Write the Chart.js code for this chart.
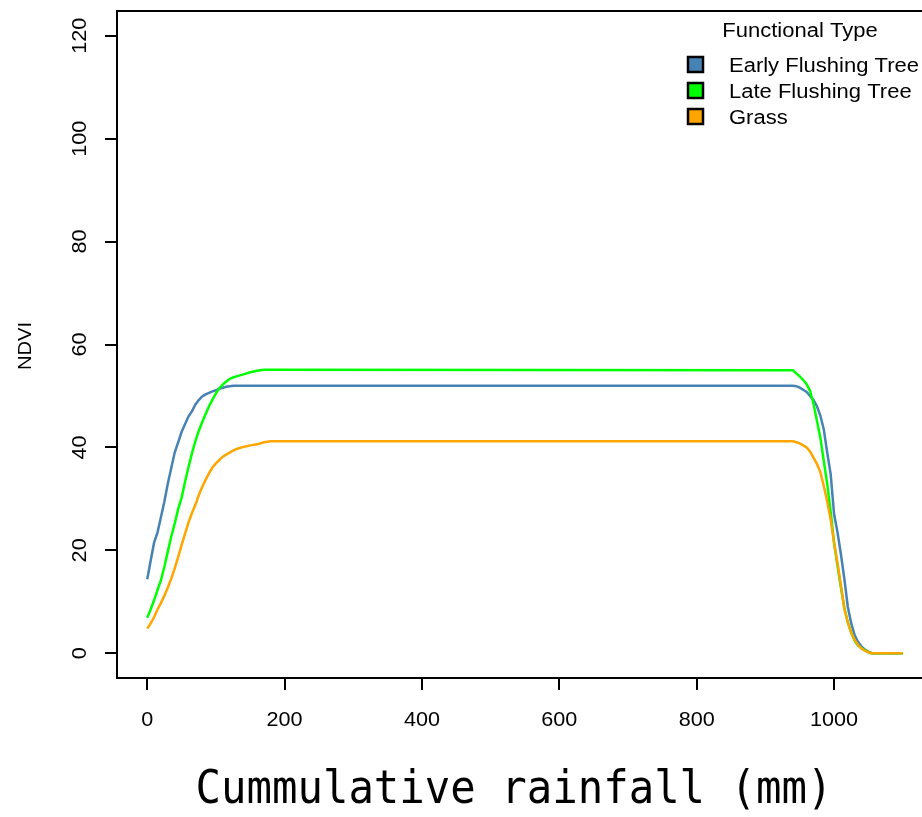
<!DOCTYPE html>
<html>
<head>
<meta charset="utf-8">
<script src="https://cdn.jsdelivr.net/npm/chart.js@4.4.1/dist/chart.umd.min.js"></script>
<style>
  html, body { margin: 0; padding: 0; background: #fff; overflow: hidden; }
  #wrap { width: 934px; height: 817px; }
</style>
</head>
<body>
<div id="wrap"><canvas id="ndviChart" width="934" height="817"></canvas></div>
<script>
// cumulative rainfall (mm) where the curves were read
const rainfall = [0, 5, 10, 15, 20, 25, 30, 35, 40, 45, 50, 55, 60, 65, 70, 75, 80, 85, 90, 95,
  100, 105, 110, 115, 120, 125, 130, 140, 150, 160, 170, 180,
  940, 945, 950, 955, 960, 965, 970, 975, 980, 985, 990, 995, 1000, 1005, 1010, 1015, 1020,
  1025, 1030, 1035, 1040, 1045, 1050, 1055, 1100];

const earlyTree = [14.4, 18, 21.5, 23.5, 26.5, 29.5, 33, 36, 39, 41, 43, 44.5, 46, 47, 48.3, 49.2, 49.9, 50.3, 50.6, 50.9,
  51.1, 51.4, 51.6, 51.8, 51.9, 52, 52, 52, 52, 52, 52, 52,
  52, 51.9, 51.6, 51.2, 50.8, 50, 49.2, 48, 46.2, 43.5, 39, 34.8, 27, 23.5, 19.2, 14.4, 9,
  5.8, 3.5, 2.2, 1.3, 0.7, 0.3, 0, 0];

const lateTree = [6.9, 8.5, 10.3, 12.3, 14.2, 16.8, 19.8, 22.7, 25.2, 28, 30.2, 33.3, 36.1, 38.8, 41.2, 43.2, 44.9, 46.5, 48, 49.3,
  50.5, 51.5, 52.2, 52.8, 53.3, 53.6, 53.8, 54.2, 54.6, 54.9, 55.1, 55.1,
  55, 54.4, 53.8, 53.1, 52.3, 51, 48.5, 45.2, 41.9, 37.4, 32.9, 27.5, 21.4, 17, 12.7, 8.8, 6,
  4, 2.4, 1.5, 1, 0.6, 0.2, 0, 0];

const grass = [4.8, 5.8, 7, 8.5, 9.8, 11.2, 12.8, 14.5, 16.5, 18.7, 21, 23.2, 25.4, 27.2, 28.8, 30.7, 32.3, 33.7, 35, 36.1,
  36.9, 37.6, 38.2, 38.6, 39, 39.4, 39.7, 40.1, 40.4, 40.6, 41, 41.2,
  41.2, 41, 40.8, 40.4, 40, 39.2, 38, 36.8, 35.2, 32.5, 29.5, 26, 21.5, 17.5, 13.2, 8.6, 6,
  4, 2.6, 1.6, 0.9, 0.5, 0.2, 0, 0];

const seriesNames = ['Early Flushing Tree', 'Late Flushing Tree', 'Grass'];
const seriesColors = ['#4682B4', '#00FF00', '#FFA500'];
const xTicks = [0, 200, 400, 600, 800, 1000];
const yTicks = [0, 20, 40, 60, 80, 100, 120];

const sans = '"Liberation Sans", Arial, sans-serif';

// R draws its text a little wide, so stretch it along the baseline
function drawText(ctx, text, x, y, font, opts) {
  opts = opts || {};
  ctx.save();
  ctx.translate(x, y);
  if (opts.rotate) ctx.rotate(opts.rotate);
  ctx.scale(opts.sx || 1, 1);
  ctx.font = font;
  ctx.textAlign = opts.align || 'center';
  ctx.textBaseline = 'middle';
  ctx.fillStyle = '#000';
  ctx.fillText(text, 0, 0);
  ctx.restore();
}

const rPlotText = {
  id: 'rPlotText',
  afterDraw(chart) {
    const ctx = chart.ctx;
    const area = chart.chartArea;
    const xs = chart.scales.x;
    const ys = chart.scales.y;

    // top edge of the box
    ctx.save();
    ctx.strokeStyle = '#000';
    ctx.lineWidth = 2;
    ctx.beginPath();
    ctx.moveTo(area.left - 1, area.top);
    ctx.lineTo(area.right + 1, area.top);
    ctx.stroke();
    ctx.restore();

    xTicks.forEach(v => {
      drawText(ctx, String(v), xs.getPixelForValue(v), 720, '20px ' + sans, { sx: 1.08 });
    });
    yTicks.forEach(v => {
      drawText(ctx, String(v), 80, ys.getPixelForValue(v), '20px ' + sans, { sx: 1.08, rotate: -Math.PI / 2 });
    });

    drawText(ctx, 'NDVI', 26, 346, '18px ' + sans, { sx: 1.12, rotate: -Math.PI / 2 });
    drawText(ctx, 'Cummulative rainfall (mm)', 514, 791, '46px "DejaVu Sans Mono", monospace', { sx: 0.92 });

    // legend
    drawText(ctx, 'Functional Type', 800, 31, '20px ' + sans, { sx: 1.1 });
    const rows = [65, 91, 117];
    chart.data.datasets.forEach((ds, i) => {
      ctx.save();
      ctx.fillStyle = ds.borderColor;
      ctx.strokeStyle = '#000';
      ctx.lineWidth = 2.5;
      ctx.fillRect(688, rows[i] - 8, 15, 15);
      ctx.strokeRect(688, rows[i] - 8, 15, 15);
      ctx.restore();
      drawText(ctx, ds.label, 729, rows[i] + 1, '20px ' + sans, { sx: 1.1, align: 'left' });
    });
  }
};

const seriesValues = [earlyTree, lateTree, grass];

new Chart(document.getElementById('ndviChart'), {
  type: 'line',
  data: {
    datasets: seriesValues.map((vals, i) => ({
      label: seriesNames[i],
      data: rainfall.map((r, j) => ({ x: r, y: vals[j] })),
      borderColor: seriesColors[i],
      backgroundColor: seriesColors[i],
      borderWidth: 2.5,
      pointRadius: 0,
      tension: 0,
      fill: false,
      order: seriesValues.length - i   // later series on top, as R draws them
    }))
  },
  options: {
    responsive: false,
    animation: false,
    devicePixelRatio: 1,
    layout: { padding: { top: 11, right: 1, left: 0, bottom: 0 } },
    plugins: { legend: { display: false }, tooltip: { enabled: false } },
    scales: {
      x: {
        type: 'linear',
        min: -44,
        max: 1144,
        afterBuildTicks: s => { s.ticks = xTicks.map(v => ({ value: v })); },
        afterFit: s => { s.height = 139; },
        ticks: { display: false },
        grid: { display: true, drawOnChartArea: false, drawTicks: true, tickLength: 12, color: '#000', lineWidth: 2 },
        border: { display: true, color: '#000', width: 2 }
      },
      y: {
        type: 'linear',
        min: -4.8,
        max: 124.8,
        afterBuildTicks: s => { s.ticks = yTicks.map(v => ({ value: v })); },
        afterFit: s => { s.width = 117; },
        ticks: { display: false },
        grid: { display: true, drawOnChartArea: false, drawTicks: true, tickLength: 12, color: '#000', lineWidth: 2 },
        border: { display: true, color: '#000', width: 2 }
      }
    }
  },
  plugins: [rPlotText]
});
</script>
</body>
</html>
